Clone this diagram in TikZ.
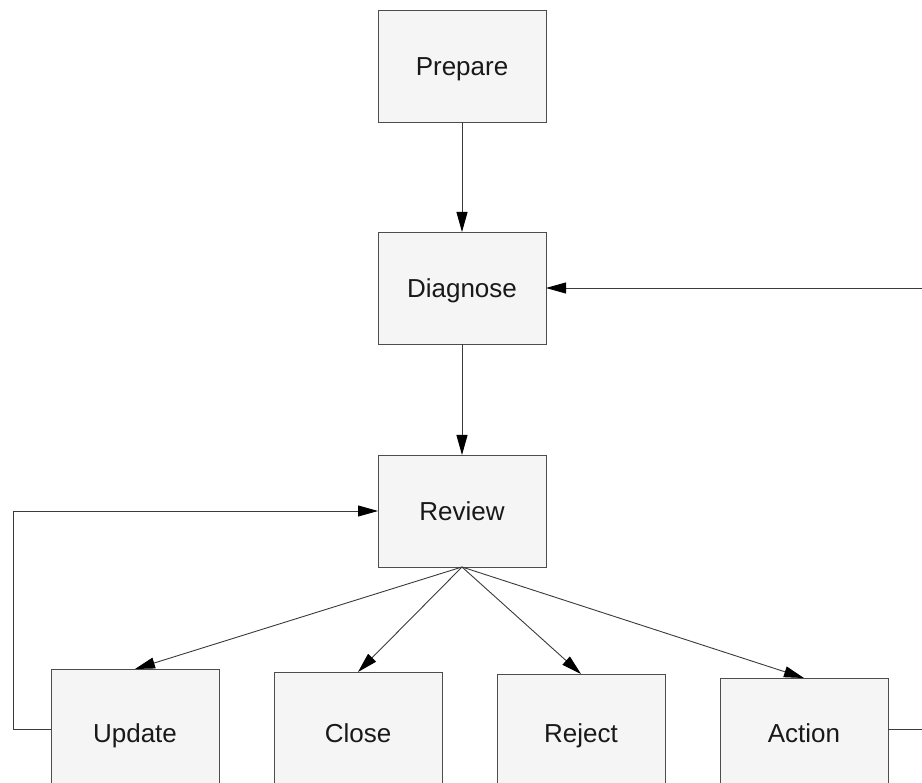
\documentclass[tikz,border=0pt]{standalone}
\usepackage{fontspec}
\setmainfont{Liberation Sans}
\usetikzlibrary{arrows.meta,calc}
\definecolor{boxfill}{HTML}{F5F5F5}
\definecolor{boxline}{HTML}{4D4D4D}
\definecolor{flowline}{HTML}{3A3A3A}

\begin{document}
\begin{tikzpicture}[x=1pt,y=-1pt,
    every node/.style={inner sep=0,outer sep=0},
    phase/.style={draw=boxline,fill=boxfill,minimum width=168pt,minimum height=112pt,
        text height=18.6pt,text depth=0pt,
        text=black!90,font=\fontsize{26}{31}\selectfont},
    flow/.style={draw=flowline,line width=0.9pt,
        -{Triangle[length=20pt,width=11pt,color=black,fill=black]}}]
    \useasboundingbox (0,0) rectangle (922,783);
    \node[phase](prep) at (462,66)  {Prepare};
    \node[phase](diag) at (462,288) {Diagnose};
    \node[phase](rev)  at (462,511) {Review};
    % bottom row runs past the lower edge
    \node[phase,minimum height=128pt](upd) at (135,733) {Update};
    \node[phase,minimum height=122pt](clo) at (358,733) {Close};
    \node[phase,minimum height=118pt](rej) at (581,733) {Reject};
    \node[phase,minimum height=110pt](act) at (804,733) {Action};
    \coordinate(inR) at (922,288);
    \draw[flow] (prep) -- (diag);
    \draw[flow] (inR) -- (diag);
    \draw[flow] (diag) -- (rev);
    \draw[flow] (rev.south) -- (upd.north);
    \draw[flow] (rev.south) -- (clo.north);
    \draw[flow] (rev.south) -- (rej.north);
    \draw[flow] (rev.south) -- (act.north);
    \draw[flow] ([yshift=4pt]upd.west) -- ++(-38,0) |- (rev.west);
    \draw[draw=flowline,line width=0.9pt] ([yshift=4pt]act.east) -- ++(34,0);
\end{tikzpicture}
\end{document}
